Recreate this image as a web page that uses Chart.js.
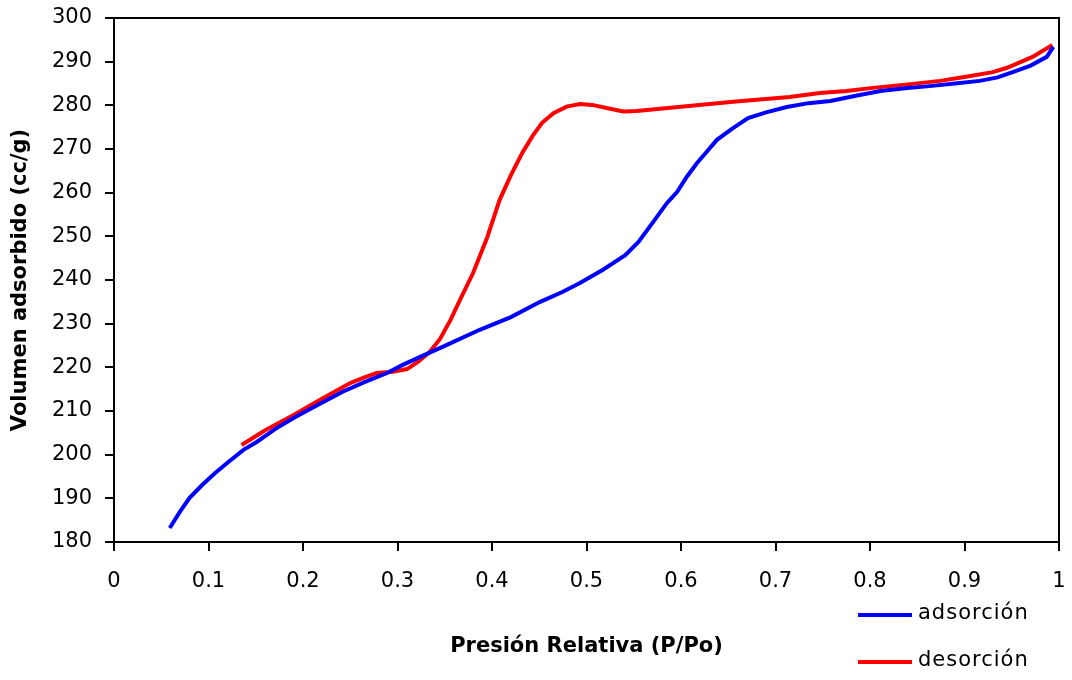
<!DOCTYPE html>
<html>
<head>
<meta charset="utf-8">
<script src="https://cdn.jsdelivr.net/npm/chart.js@4.4.1/dist/chart.umd.min.js"></script>
<style>
  body { margin: 0; background: #fff; }
  #wrap { width: 1072px; height: 680px; }
</style>
</head>
<body>
<div id="wrap"><canvas id="grafico"></canvas></div>
<script>
// isoterma de adsorcion / desorcion
const adsX = [0.059, 0.07, 0.080, 0.093, 0.107, 0.122, 0.137, 0.151, 0.17, 0.190, 0.215, 0.242, 0.265, 0.289, 0.305, 0.324, 0.35, 0.387, 0.42, 0.451, 0.475, 0.493, 0.517, 0.541, 0.555, 0.572, 0.585, 0.596, 0.606, 0.617, 0.627, 0.638, 0.655, 0.671, 0.690, 0.712, 0.735, 0.758, 0.785, 0.811, 0.837, 0.863, 0.89, 0.916, 0.935, 0.951, 0.970, 0.987, 0.994];
const adsY = [183.2, 187, 190.1, 193, 195.8, 198.5, 201.1, 202.9, 205.8, 208.4, 211.3, 214.4, 216.6, 218.7, 220.5, 222.4, 224.9, 228.6, 231.5, 235, 237.3, 239.3, 242.3, 245.7, 248.7, 253.7, 257.6, 260.2, 263.6, 266.8, 269.3, 272.1, 274.8, 277.1, 278.4, 279.6, 280.5, 281, 282.2, 283.3, 283.9, 284.4, 285, 285.6, 286.4, 287.6, 289.1, 291.1, 293.4];

const desX = [0.993, 0.972, 0.945, 0.930, 0.90, 0.874, 0.84, 0.803, 0.775, 0.747, 0.715, 0.655, 0.60, 0.553, 0.539, 0.525, 0.506, 0.493, 0.479, 0.465, 0.453, 0.443, 0.432, 0.420, 0.408, 0.395, 0.380, 0.366, 0.356, 0.345, 0.334, 0.322, 0.310, 0.295, 0.278, 0.265, 0.250, 0.22, 0.190, 0.16, 0.135];
const desY = [293.8, 291.1, 288.6, 287.6, 286.5, 285.6, 284.8, 284, 283.3, 282.8, 281.9, 280.8, 279.7, 278.7, 278.6, 279.2, 280.1, 280.3, 279.7, 278.2, 276, 273, 269.1, 264, 258.3, 249.8, 241.6, 235.4, 230.8, 226.5, 223.5, 221.3, 219.6, 219, 218.7, 217.7, 216.4, 212.8, 209.1, 205.6, 202.2];

const nombresSeries = ['adsorción', 'desorción'];
const coloresSeries = ['#0000ff', '#ff0000'];

function puntos(xs, ys) {
    return xs.map((x, i) => ({ x: x, y: ys[i] }));
}

// marco completo y leyenda abajo a la derecha
const marcoYLeyenda = {
    id: 'marcoYLeyenda',
    afterDraw(chart) {
        const ctx = chart.ctx;
        const a = chart.chartArea;
        ctx.save();
        ctx.strokeStyle = '#000';
        ctx.lineWidth = 2;
        ctx.strokeRect(a.left, a.top, a.right - a.left, a.bottom - a.top);

        ctx.font = '21px "DejaVu Sans"';
        ctx.letterSpacing = '1px';
        ctx.textBaseline = 'middle';
        ctx.fillStyle = '#000';
        chart.data.datasets.forEach((ds, i) => {
            const y = 615 + i * 47;
            ctx.strokeStyle = ds.borderColor;
            ctx.lineWidth = 4;
            ctx.beginPath();
            ctx.moveTo(858, y);
            ctx.lineTo(912, y);
            ctx.stroke();
            ctx.fillText(ds.label, 918, y - 1);
        });
        ctx.restore();
    }
};

new Chart(document.getElementById('grafico'), {
    type: 'scatter',
    data: {
        datasets: [{
            label: nombresSeries[0],
            data: puntos(adsX, adsY),
            borderColor: coloresSeries[0],
            backgroundColor: coloresSeries[0],
            borderWidth: 4,
            showLine: true,
            pointRadius: 0,
            tension: 0
        }, {
            label: nombresSeries[1],
            data: puntos(desX, desY),
            borderColor: coloresSeries[1],
            backgroundColor: coloresSeries[1],
            borderWidth: 4,
            showLine: true,
            pointRadius: 0,
            tension: 0
        }]
    },
    options: {
        responsive: true,
        maintainAspectRatio: false,
        animation: false,
        layout: { padding: { left: 0, top: 18, right: 13, bottom: 0 } },
        plugins: {
            legend: { display: false },
            tooltip: { enabled: false }
        },
        scales: {
            x: {
                type: 'linear',
                min: 0,
                max: 1,
                ticks: {
                    stepSize: 0.1,
                    padding: 18,
                    color: '#000',
                    font: { family: 'DejaVu Sans', size: 21 },
                    callback: v => String(Math.round(v * 10) / 10)
                },
                grid: { drawOnChartArea: false, drawTicks: true, tickLength: 9, color: '#000', lineWidth: 2 },
                border: { display: true, color: '#000', width: 2 },
                title: {
                    display: true,
                    text: 'Presión Relativa (P/Po)',
                    color: '#000',
                    font: { family: 'DejaVu Sans', size: 21, weight: 'bold' },
                    padding: { top: 0, bottom: 21 }
                },
                afterFit(scale) {
                    scale.height = 138;
                    scale.paddingLeft = 0;
                    scale.paddingRight = 0;
                }
            },
            y: {
                type: 'linear',
                min: 180,
                max: 300,
                ticks: {
                    stepSize: 10,
                    padding: 13,
                    color: '#000',
                    font: { family: 'DejaVu Sans', size: 21 }
                },
                grid: { drawOnChartArea: false, drawTicks: true, tickLength: 9, color: '#000', lineWidth: 2 },
                border: { display: true, color: '#000', width: 2 },
                title: {
                    display: true,
                    text: 'Volumen adsorbido (cc/g)',
                    color: '#000',
                    font: { family: 'DejaVu Sans', size: 21, weight: 'bold' },
                    padding: { top: 8, bottom: 0 }
                },
                afterFit(scale) {
                    scale.width = 114;
                    scale.paddingTop = 0;
                    scale.paddingBottom = 0;
                }
            }
        }
    },
    plugins: [marcoYLeyenda]
});
</script>
</body>
</html>
